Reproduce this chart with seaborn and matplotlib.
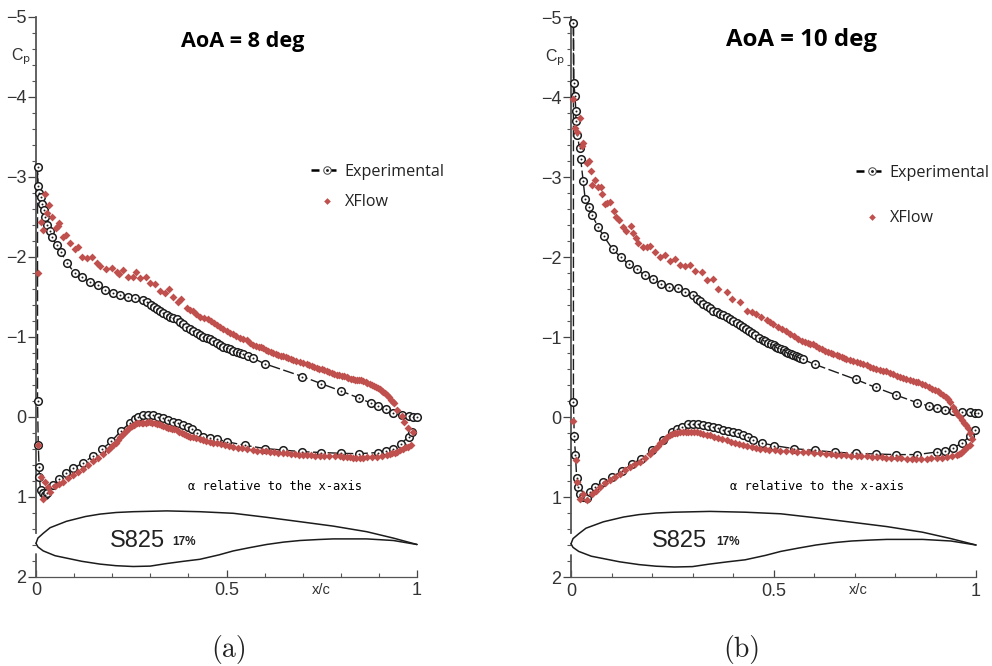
import matplotlib
matplotlib.use("Agg")
import matplotlib.pyplot as plt
from matplotlib.lines import Line2D
from matplotlib.legend_handler import HandlerTuple
from matplotlib.ticker import FixedLocator, FixedFormatter
import seaborn as sns

# =========================================
# Data
# =========================================
exp8_up_x = [.004, .005, .009, .012, .016, .02, .024, .03, .036, .042, .054, .065, .081, .102, .122, .142, .162, .182, .201, .221, .241, .26, .281, .292, .303, .31, .317, .325, .334, .343, .352, .36, .369, .378, .387, .395, .404, .413, .422, .43, .439, .448, .457, .465, .474, .483, .492, .5, .509, .518, .527, .535, .544, .557, .57, .6, .699, .749, .8, .848, .878, .898, .918, .937, .96, .979, .99, 1.0]
exp8_up_cp = [-3.12, -2.88, -2.8, -2.74, -2.66, -2.58, -2.5, -2.4, -2.32, -2.24, -2.14, -2.06, -1.92, -1.79, -1.74, -1.68, -1.64, -1.585, -1.55, -1.52, -1.49, -1.485, -1.455, -1.435, -1.394, -1.367, -1.34, -1.32, -1.3, -1.275, -1.25, -1.232, -1.215, -1.185, -1.156, -1.125, -1.09, -1.065, -1.04, -1.02, -.998, -.98, -.965, -.945, -.923, -.893, -.865, -.852, -.84, -.825, -.81, -.793, -.777, -.752, -.727, -.66, -.5, -.41, -.32, -.23, -.17, -.13, -.09, -.04, -.02, -.01, 0, 0]
exp8_lo_x = [.004, .006, .008, .009, .012, .018, .024, .03, .045, .061, .078, .098, .124, .149, .173, .198, .223, .247, .26, .268, .282, .295, .308, .321, .334, .347, .36, .373, .386, .4, .409, .422, .439, .457, .474, .5, .549, .6, .649, .699, .749, .8, .848, .898, .918, .938, .958, .979, .988]
exp8_lo_cp = [-.19, .355, .63, .76, .92, .95, .98, .96, .86, .78, .71, .645, .58, .495, .41, .31, .18, .08, .035, .01, -.015, -.02, -.02, 0, .02, .045, .065, .085, .1, .125, .155, .21, .25, .27, .28, .315, .36, .4, .42, .44, .45, .46, .465, .45, .43, .4, .34, .25, .19]

xf8_up_x = [.006, .012, .018, .024, .028, .034, .043, .052, .057, .061, .07, .08, .089, .102, .111, .122, .135, .146, .159, .168, .185, .199, .212, .219, .229, .242, .254, .262, .273, .288, .299, .312, .325, .339, .349, .36, .372, .381, .396, .405, .413, .421, .43, .44, .451, .459, .467, .475, .483, .491, .5, .508, .517, .526, .535, .544, .553, .561, .57, .577, .584, .59, .597, .604, .61, .616, .622, .629, .636, .642, .649, .655, .662, .668, .675, .683, .692, .701, .71, .717, .724, .73, .737, .743, .75, .756, .763, .769, .776, .782, .789, .795, .802, .808, .815, .82, .826, .832, .837, .843, .848, .854, .859, .865, .87, .876, .881, .887, .892, .898, .903, .908, .912, .916, .92, .926, .931, .936, .94, .948, .96, .967, .977, .989]
xf8_up_cp = [-1.8, -2.435, -2.33, -2.78, -2.54, -2.64, -2.5, -2.36, -2.38, -2.42, -2.24, -2.27, -2.17, -2.1, -2.12, -2, -1.985, -2, -1.92, -1.88, -1.84, -1.86, -1.81, -1.78, -1.83, -1.75, -1.75, -1.81, -1.73, -1.74, -1.665, -1.655, -1.57, -1.54, -1.59, -1.5, -1.435, -1.47, -1.355, -1.335, -1.32, -1.285, -1.25, -1.235, -1.22, -1.19, -1.165, -1.14, -1.12, -1.095, -1.07, -1.05, -1.03, -1.005, -.98, -.965, -.955, -.92, -.89, -.885, -.875, -.865, -.855, -.835, -.82, -.805, -.79, -.78, -.77, -.76, -.755, -.74, -.73, -.715, -.705, -.69, -.68, -.665, -.655, -.64, -.63, -.62, -.61, -.6, -.59, -.58, -.57, -.56, -.55, -.535, -.525, -.515, -.51, -.505, -.5, -.485, -.475, -.465, -.455, -.455, -.455, -.452, -.45, -.435, -.42, -.405, -.39, -.378, -.365, -.352, -.34, -.32, -.305, -.288, -.27, -.24, -.205, -.187, -.17, -.08, -.005, .07, .145, .195]
xf8_lo_x = [.006, .012, .024, .032, .019, .037, .05, .06, .072, .085, .098, .111, .124, .137, .15, .163, .177, .19, .197, .203, .209, .214, .22, .225, .23, .236, .242, .247, .252, .256, .26, .264, .27, .277, .282, .288, .293, .299, .305, .312, .318, .323, .329, .334, .34, .347, .352, .358, .363, .369, .375, .382, .388, .393, .398, .404, .412, .42, .43, .439, .447, .456, .465, .474, .485, .496, .507, .518, .529, .54, .555, .57, .581, .592, .603, .614, .625, .636, .647, .658, .669, .68, .69, .7, .711, .722, .733, .745, .757, .77, .784, .798, .806, .815, .824, .833, .841, .85, .859, .868, .881, .894, .907, .92, .928, .935, .941, .947, .955, .963, .97, .977, .983]
xf8_lo_cp = [.355, .75, .815, .88, 1.03, .94, .87, .845, .815, .77, .73, .69, .65, .605, .56, .515, .47, .415, .385, .355, .325, .295, .262, .23, .205, .18, .155, .13, .117, .105, .095, .085, .082, .08, .078, .075, .072, .07, .075, .08, .088, .095, .105, .115, .128, .14, .148, .155, .162, .17, .188, .205, .215, .225, .238, .25, .26, .27, .283, .295, .305, .315, .325, .335, .348, .36, .37, .38, .388, .395, .408, .42, .425, .43, .435, .44, .445, .45, .455, .46, .465, .47, .475, .48, .483, .485, .488, .49, .49, .49, .493, .495, .5, .505, .51, .515, .515, .515, .513, .51, .505, .5, .49, .48, .47, .46, .45, .44, .42, .4, .387, .375, .36]

exp10_up_x = [.006, .007, .01, .012, .012, .016, .021, .024, .03, .035, .044, .053, .066, .081, .103, .123, .142, .162, .183, .203, .223, .243, .263, .282, .302, .31, .318, .327, .335, .343, .351, .36, .368, .376, .385, .393, .401, .41, .418, .425, .433, .44, .448, .455, .465, .474, .48, .487, .494, .5, .506, .512, .518, .525, .531, .537, .543, .549, .555, .56, .566, .572, .602, .703, .752, .802, .854, .884, .903, .923, .944, .965, .985, .998, 1.005]
exp10_up_cp = [-4.93, -4.175, -4.01, -3.82, -3.7, -3.52, -3.36, -3.225, -2.95, -2.725, -2.63, -2.52, -2.38, -2.26, -2.095, -2, -1.91, -1.845, -1.77, -1.72, -1.665, -1.625, -1.61, -1.56, -1.52, -1.48, -1.445, -1.41, -1.385, -1.36, -1.33, -1.31, -1.29, -1.27, -1.25, -1.23, -1.2, -1.17, -1.145, -1.12, -1.095, -1.07, -1.045, -1.02, -.99, -.96, -.945, -.93, -.913, -.896, -.88, -.865, -.85, -.833, -.817, -.8, -.785, -.77, -.757, -.745, -.732, -.72, -.658, -.47, -.37, -.275, -.18, -.137, -.11, -.09, -.07, -.06, -.067, -.054, -.045]
exp10_lo_x = [.006, .008, .011, .014, .017, .022, .03, .04, .047, .059, .078, .1, .125, .15, .174, .2, .226, .249, .261, .273, .29, .302, .314, .327, .339, .351, .364, .376, .388, .4, .413, .425, .438, .45, .472, .502, .551, .602, .652, .703, .752, .802, .854, .903, .923, .944, .965, .985, .998]
exp10_lo_cp = [-.19, .24, .47, .76, .88, .96, 1, 1.01, .94, .88, .81, .75, .68, .59, .52, .417, .29, .19, .146, .125, .09, .083, .0875, .096, .108, .125, .14, .158, .17, .19, .196, .22, .25, .29, .325, .358, .396, .417, .44, .454, .4625, .47, .47, .4375, .43, .383, .33, .2375, .16]

xf10_up_x = [.005, .01, .016, .022, .026, .03, .039, .045, .049, .053, .059, .067, .073, .077, .084, .09, .096, .105, .111, .119, .128, .137, .148, .152, .16, .166, .179, .187, .195, .207, .22, .232, .244, .257, .269, .281, .294, .306, .323, .335, .35, .364, .384, .397, .417, .434, .446, .458, .47, .483, .491, .499, .51, .52, .53, .54, .55, .56, .57, .577, .584, .591, .598, .605, .612, .62, .627, .634, .641, .648, .656, .662, .668, .674, .68, .688, .697, .705, .713, .721, .73, .738, .746, .754, .762, .77, .779, .787, .795, .804, .812, .82, .828, .836, .844, .851, .858, .866, .875, .883, .891, .898, .905, .911, .918, .925, .931, .936, .942, .948, .954, .96, .965, .97, .976, .981, .985, .989]
xf10_up_cp = [-3.975, -3.61, -3.56, -3.74, -3.385, -3.425, -3.175, -3.195, -3.08, -2.9, -2.96, -2.88, -2.875, -2.79, -2.66, -2.675, -2.69, -2.58, -2.5, -2.46, -2.37, -2.33, -2.39, -2.3, -2.24, -2.18, -2.13, -2.12, -2.14, -2.06, -2, -2.03, -1.95, -1.98, -1.9, -1.89, -1.9, -1.83, -1.81, -1.71, -1.73, -1.6, -1.56, -1.48, -1.44, -1.33, -1.31, -1.29, -1.25, -1.21, -1.185, -1.16, -1.13, -1.1, -1.07, -1.04, -1.01, -.975, -.945, -.935, -.925, -.918, -.91, -.89, -.865, -.845, -.825, -.812, -.8, -.79, -.78, -.765, -.75, -.735, -.72, -.71, -.7, -.69, -.68, -.665, -.645, -.628, -.61, -.6, -.59, -.58, -.57, -.552, -.535, -.518, -.5, -.485, -.47, -.46, -.45, -.44, -.433, -.415, -.395, -.375, -.354, -.335, -.32, -.304, -.278, -.25, -.22, -.1875, -.13, -.075, -.04, 0, .038, .075, .105, .133, .2, .27]
xf10_lo_x = [.005, .0115, .016, .022, .029, .039, .051, .061, .072, .084, .096, .108, .121, .133, .146, .158, .17, .183, .195, .201, .208, .214, .22, .226, .232, .238, .244, .25, .256, .262, .269, .276, .283, .29, .296, .303, .31, .318, .327, .335, .343, .353, .363, .373, .384, .394, .404, .414, .425, .435, .446, .456, .467, .478, .49, .503, .516, .53, .545, .559, .573, .586, .6, .615, .63, .642, .655, .667, .68, .692, .705, .717, .73, .742, .755, .767, .779, .791, .804, .816, .829, .841, .853, .865, .878, .89, .903, .915, .928, .94, .952, .958, .963, .968, .973, .979, .984]
xf10_lo_cp = [.05, .54, .81, 1.03, .96, 1.04, .96, .92, .875, .83, .79, .75, .71, .665, .625, .59, .5625, .51, .46, .43, .395, .362, .33, .305, .28, .255, .23, .218, .205, .198, .19, .188, .186, .185, .183, .182, .19, .2, .21, .22, .23, .245, .26, .275, .29, .307, .325, .34, .354, .365, .375, .386, .396, .403, .41, .418, .425, .428, .43, .434, .4375, .443, .45, .454, .458, .465, .47, .475, .48, .482, .485, .488, .49, .495, .5, .505, .51, .513, .515, .518, .52, .52, .52, .52, .52, .518, .515, .508, .5, .49, .48, .46, .445, .425, .404, .38, .354]

foil_up_x = [0, .005, .019, .037, .08, .13, .168, .21, .255, .343, .43, .518, .605, .693, .78, .868, .938, 1]
foil_up_y = [1.585, 1.52, 1.46, 1.39, 1.31, 1.25, 1.22, 1.2, 1.19, 1.18, 1.19, 1.21, 1.26, 1.315, 1.37, 1.44, 1.52, 1.6]
foil_lo_x = [0, .005, .019, .05, .08, .12, .168, .21, .255, .3, .34, .387, .43, .48, .518, .56, .605, .65, .693, .74, .78, .868, .938, 1]
foil_lo_y = [1.585, 1.63, 1.68, 1.74, 1.77, 1.81, 1.845, 1.865, 1.875, 1.87, 1.84, 1.81, 1.785, 1.73, 1.68, 1.64, 1.6, 1.57, 1.55, 1.538, 1.53, 1.53, 1.55, 1.6]

y_major = [-5, -4, -3, -2, -1, 0, 1, 2]
y_minor = [-4.8, -4.6, -4.4, -4.2, -3.8, -3.6, -3.4, -3.2, -2.8, -2.6, -2.4, -2.2, -1.8, -1.6, -1.4, -1.2, -.8, -.6, -.4, -.2, .2, .4, .6, .8, 1.2, 1.4, 1.6, 1.8]
x_major = [0, .5, 1]
x_minor = [.1, .2, .3, .4, .6, .7, .8, .9]
x_labels = ["0", "0.5", "1"]

RED = "#c0504d"
INK = "#1c1c1c"
W, H = 992, 666

sns.set_theme(style="white")
plt.rcParams["font.family"] = ["Liberation Sans", "DejaVu Sans"]
plt.rcParams["mathtext.fontset"] = "dejavusans"


def panel(left, right, top, bottom, up_x, up_cp, lo_x, lo_cp, xu_x, xu_cp, xl_x, xl_cp):
    ax = fig.add_axes([left / W, 1 - bottom / H, (right - left) / W, (bottom - top) / H])
    ax.patch.set_alpha(0)
    # line runs TE -> LE on the upper side then LE -> TE underneath
    line_x = up_x[::-1] + lo_x
    line_y = up_cp[::-1] + lo_cp
    sns.lineplot(x=line_x, y=line_y, sort=False, estimator=None, color=INK, lw=1.0,
                 linestyle=(0, (8, 2.5)), ax=ax, legend=False, clip_on=False, zorder=2)
    sns.scatterplot(x=up_x + lo_x, y=up_cp + lo_cp, s=30, facecolor="white", edgecolor=INK,
                    linewidth=1.1, ax=ax, legend=False, clip_on=False, zorder=3)
    sns.scatterplot(x=up_x + lo_x, y=up_cp + lo_cp, s=2, color=INK, linewidth=0,
                    ax=ax, legend=False, clip_on=False, zorder=4)
    sns.scatterplot(x=xu_x + xl_x, y=xu_cp + xl_cp, s=16, marker="D", color=RED, linewidth=0,
                    ax=ax, legend=False, clip_on=False, zorder=5)
    sns.lineplot(x=foil_up_x, y=foil_up_y, sort=False, estimator=None, color=INK, lw=1.1,
                 ax=ax, legend=False, clip_on=False)
    sns.lineplot(x=foil_lo_x, y=foil_lo_y, sort=False, estimator=None, color=INK, lw=1.1,
                 ax=ax, legend=False, clip_on=False)

    ax.set_xlim(0, 1)
    ax.set_ylim(2, -5)
    ax.spines["top"].set_visible(False)
    ax.spines["right"].set_visible(False)
    ax.spines["left"].set_color("#555555")
    ax.spines["left"].set_linewidth(1.3)
    ax.spines["bottom"].set_color("#555555")
    ax.spines["bottom"].set_linewidth(0.9)
    # spine breaks where the aerofoil nose sits
    ax.spines["left"].set_bounds(-5, 1.45)
    ax.plot([0, 0], [1.72, 2], color="#555555", lw=1.3, clip_on=False)

    ax.yaxis.set_major_locator(FixedLocator(y_major))
    ax.yaxis.set_minor_locator(FixedLocator(y_minor))
    ax.xaxis.set_major_locator(FixedLocator(x_major))
    ax.xaxis.set_major_formatter(FixedFormatter(x_labels))
    ax.xaxis.set_minor_locator(FixedLocator(x_minor))
    ax.tick_params(axis="y", which="major", direction="out", length=6, width=0.9, color="#444444",
                   labelsize=13, labelcolor="#333333", pad=1, left=True)
    ax.tick_params(axis="y", which="minor", direction="out", length=3, width=0.8, color="#555555", left=True)
    ax.tick_params(axis="x", which="major", direction="in", length=5, width=0.9, color="#444444",
                   labelsize=13, labelcolor="#333333", pad=4, bottom=True)
    ax.tick_params(axis="x", which="minor", direction="in", length=3, width=0.8, color="#555555", bottom=True)
    ax.set_xlabel("")
    ax.set_ylabel("")
    return ax


def label(px, py, s, **kw):
    kw.setdefault("ha", "center")
    kw.setdefault("va", "center")
    fig.text(px / W, 1 - py / H, s, **kw)


def key(ax, left, top, spacing):
    dash = Line2D([], [], color="black", lw=1.8, linestyle=(0, (3.2, 3.6)))
    ring = Line2D([], [], linestyle="none", marker="o", ms=5.4, mfc="white", mec="#444444", mew=0.7)
    dot = Line2D([], [], linestyle="none", marker="o", ms=1.1, color="#222222")
    diamond = Line2D([], [], linestyle="none", marker="D", ms=3.4, color=RED, mew=0)
    leg = ax.legend([(dash, ring, dot), diamond], ["Experimental", "XFlow"],
                    handler_map={tuple: HandlerTuple(ndivide=1, pad=0)},
                    loc="upper left", bbox_to_anchor=(left / W, 1 - top / H),
                    bbox_transform=fig.transFigure, frameon=False,
                    handlelength=2.0, handletextpad=0.08, labelspacing=spacing,
                    borderpad=0, borderaxespad=0, prop={"family": "Open Sans", "size": 11.6})
    for t in leg.get_texts():
        t.set_color("#222222")


fig = plt.figure(figsize=(W / 100, H / 100), dpi=100, facecolor="white")

ax_a = panel(36, 417, 16.5, 576.5, exp8_up_x, exp8_up_cp, exp8_lo_x, exp8_lo_cp,
             xf8_up_x, xf8_up_cp, xf8_lo_x, xf8_lo_cp)
ax_b = panel(571, 976, 17, 577, exp10_up_x, exp10_up_cp, exp10_lo_x, exp10_lo_cp,
             xf10_up_x, xf10_up_cp, xf10_lo_x, xf10_lo_cp)

key(ax_a, 311, 164, 0.88)
key(ax_b, 856, 165, 1.82)

label(243, 41, "AoA = 8 deg", family="Open Sans", weight="bold", size=15.6, color="black")
label(802, 40, "AoA = 10 deg", family="Open Sans", weight="bold", size=17.3, color="black")

label(21, 57, r"C$_{\mathrm{p}}$", size=11.5, color="#333333")
label(555, 58, r"C$_{\mathrm{p}}$", size=11.5, color="#333333")

label(275, 486, "\u03b1 relative to the x-axis", family="DejaVu Sans Mono", size=8.7, color="black")
label(817, 486, "\u03b1 relative to the x-axis", family="DejaVu Sans Mono", size=8.7, color="black")
label(137, 541, "S825", size=17, color="#222222")
label(184, 542, "17%", size=8.5, weight="bold", color="#222222")
label(679, 541, "S825", size=17, color="#222222")
label(728, 542, "17%", size=8.5, weight="bold", color="#222222")
label(321, 590, "x/c", size=10.5, color="#333333")
label(858, 590, "x/c", size=10.5, color="#333333")
label(229, 649, "(a)", family="cmr10", size=20, color="#222222")
label(742, 649, "(b)", family="cmr10", size=20, color="#222222")

plt.savefig("out.png", dpi=100)
